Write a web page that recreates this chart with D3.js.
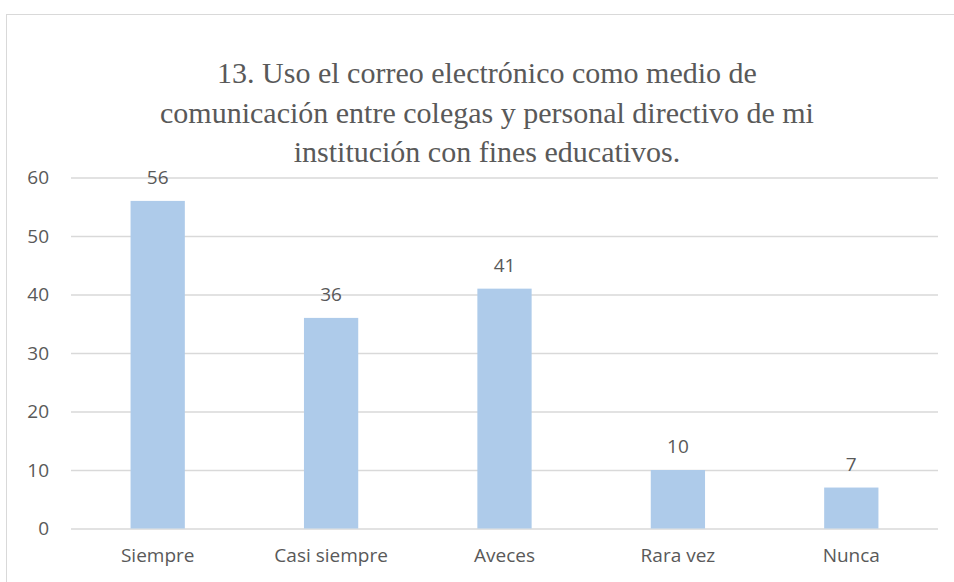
<!DOCTYPE html>
<html lang="es">
<head>
<meta charset="UTF-8">
<title>Uso del correo electrónico</title>
<style>
  body { margin: 0; background: #ffffff; }
  svg text { fill: #595959; }
  .title { font-family: "Liberation Serif", "Times New Roman", Times, Tinos, "Noto Serif", "DejaVu Serif", serif; }
</style>
</head>
<body>
<div class="chart"></div>
<script src="https://d3js.org/d3.v7.min.js"></script>
<script>
  const categories = ['Siempre', 'Casi siempre', 'Aveces', 'Rara vez', 'Nunca']
  const values = [56, 36, 41, 10, 7]
  const yTicks = [0, 10, 20, 30, 40, 50, 60]
  const titleLines = [
    '13. Uso el correo electrónico como medio de',
    'comunicación entre colegas y personal directivo de mi',
    'institución con fines educativos.'
  ]

  const width = 954, height = 582
  const plot = { left: 71, right: 938, top: 177.5, bottom: 528.5 }
  const labelFont = 'Open Sans, Noto Sans, sans-serif'

  const svg = d3.select('.chart')
    .append('svg')
    .attr('width', width)
    .attr('height', height)

  // chart frame
  svg.append('rect')
    .attr('x', 6.5).attr('y', 14.5)
    .attr('width', 980).attr('height', 600)
    .attr('fill', 'none')
    .attr('stroke', '#d9d9d9')

  // title
  svg.append('text')
    .attr('class', 'title')
    .attr('text-anchor', 'middle')
    .attr('font-size', 30)
    .selectAll('tspan')
    .data(titleLines)
    .enter()
    .append('tspan')
    .attr('x', 487)
    .attr('y', (d, i) => 83 + i * 39.5)
    .text(d => d)

  const x = d3.scaleBand()
    .domain(categories)
    .range([plot.left, plot.right])
    .paddingInner(0.687)
    .paddingOuter(0.3435)

  const y = d3.scaleLinear()
    .domain([0, 60])
    .range([plot.bottom, plot.top])

  // gridlines + y labels
  const yAxis = svg.append('g')
    .attr('transform', 'translate(' + plot.left + ',0)')
    .call(d3.axisLeft(y).tickValues(yTicks).tickSize(-(plot.right - plot.left)).tickPadding(22))
  yAxis.select('.domain').remove()
  yAxis.selectAll('.tick line').attr('stroke', '#d9d9d9').attr('stroke-width', 1.3)
  yAxis.selectAll('.tick text')
    .attr('font-family', labelFont).attr('font-size', 19).attr('fill', '#595959')

  // bars
  svg.selectAll('.bar')
    .data(values)
    .enter()
    .append('rect')
    .attr('class', 'bar')
    .attr('x', (d, i) => x(categories[i]))
    .attr('y', d => y(d))
    .attr('width', x.bandwidth())
    .attr('height', d => y(0) - y(d))
    .attr('fill', '#aecbea')

  // value labels
  svg.selectAll('.val')
    .data(values)
    .enter()
    .append('text')
    .attr('class', 'val')
    .attr('x', (d, i) => x(categories[i]) + x.bandwidth() / 2)
    .attr('y', d => y(d) - 17)
    .attr('text-anchor', 'middle')
    .attr('font-family', labelFont)
    .attr('font-size', 19)
    .text(d => d)

  // x axis labels
  const xAxis = svg.append('g')
    .attr('transform', 'translate(0,' + plot.bottom + ')')
    .call(d3.axisBottom(x).tickSize(0).tickPadding(20))
  xAxis.select('.domain').remove()
  xAxis.selectAll('.tick text')
    .attr('font-family', labelFont).attr('font-size', 19).attr('fill', '#595959')
</script>
</body>
</html>
